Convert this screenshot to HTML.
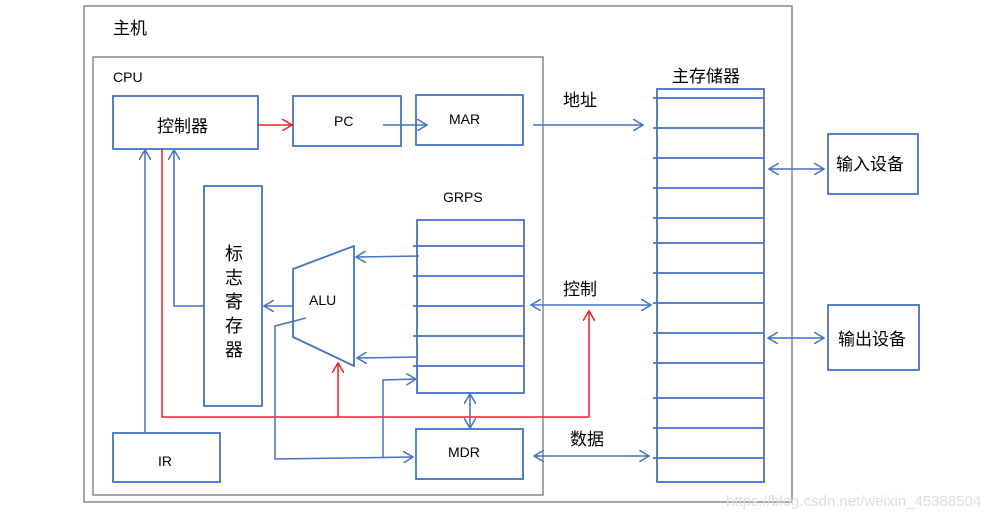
<!DOCTYPE html>
<html><head><meta charset="utf-8"><style>
body{margin:0;background:#fff;}
svg text{font-family:"Liberation Sans","Noto Sans CJK SC",sans-serif;fill:#000;}
</style></head><body>
<svg width="1007" height="519" xmlns="http://www.w3.org/2000/svg">
<defs>
<marker id="b" markerWidth="12" markerHeight="12" refX="10" refY="6" orient="auto-start-reverse" markerUnits="userSpaceOnUse"><path d="M0,0 L10,6 L0,12" fill="none" stroke="#4472C4" stroke-width="1.5"/></marker>
<marker id="r" markerWidth="12" markerHeight="12" refX="10" refY="6" orient="auto-start-reverse" markerUnits="userSpaceOnUse"><path d="M0,0 L10,6 L0,12" fill="none" stroke="#E8202A" stroke-width="1.5"/></marker>
</defs>
<rect x="84" y="6" width="708" height="496" fill="none" stroke="#888" stroke-width="1.5"/>
<rect x="93" y="57" width="450" height="438" fill="none" stroke="#888" stroke-width="1.5"/>
<text x="113" y="34" font-size="17">主机</text>
<text x="113" y="82" font-size="14">CPU</text>
<g fill="none" stroke="#4472C4" stroke-width="1.8">
<rect x="113" y="96" width="145" height="53"/>
<rect x="293" y="96" width="108" height="50"/>
<rect x="416" y="95" width="107" height="50"/>
<rect x="204" y="186" width="58" height="220"/>
<rect x="417" y="220" width="107" height="173"/>
<path d="M413 246H524M413 276H524M413 306H524M413 336H524M413 366H524"/>
<path d="M293 269L354 246V366L293 337Z"/>
<rect x="416" y="429" width="107" height="50"/>
<rect x="113" y="433" width="107" height="49"/>
<rect x="657" y="89" width="107" height="393"/>
<path d="M653 98H764M653 128H764M653 158H764M653 188H764M653 218H764M653 243H764M653 273H764M653 303H764M653 333H764M653 363H764M653 398H764M653 428H764M653 458H764"/>
<rect x="828" y="134" width="90" height="60"/>
<rect x="828" y="305" width="91" height="65"/>
</g>
<g fill="none" stroke-width="1.5">
<path d="M258 125H292" stroke="#E8202A" marker-end="url(#r)"/>
<path d="M383 125H427" stroke="#4472C4" marker-end="url(#b)"/>
<path d="M145 433V150" stroke="#4472C4" marker-end="url(#b)"/>
<path d="M162 149V417H589V311" stroke="#E8202A" marker-end="url(#r)"/>
<path d="M338 417V363" stroke="#E8202A" marker-end="url(#r)"/>
<path d="M204 306H174V150" stroke="#4472C4" marker-end="url(#b)"/>
<path d="M293 306H264" stroke="#4472C4" marker-end="url(#b)"/>
<path d="M419 256L356 257" stroke="#4472C4" marker-end="url(#b)"/>
<path d="M416 357L357 358" stroke="#4472C4" marker-end="url(#b)"/>
<path d="M306 318L275 326V459L413 457" stroke="#4472C4" marker-end="url(#b)"/>
<path d="M383 458V380L416 379" stroke="#4472C4" marker-end="url(#b)"/>
<path d="M470 394V428" stroke="#4472C4" marker-start="url(#b)" marker-end="url(#b)"/>
<path d="M533 125H643" stroke="#4472C4" marker-end="url(#b)"/>
<path d="M531 305H651" stroke="#4472C4" marker-start="url(#b)" marker-end="url(#b)"/>
<path d="M534 456H649" stroke="#4472C4" marker-start="url(#b)" marker-end="url(#b)"/>
<path d="M769 169H824" stroke="#4472C4" marker-start="url(#b)" marker-end="url(#b)"/>
<path d="M768 338H824" stroke="#4472C4" marker-start="url(#b)" marker-end="url(#b)"/>
</g>
<text x="157" y="132" font-size="17">控制器</text>
<text x="334" y="126" font-size="14">PC</text>
<text x="449" y="124" font-size="14">MAR</text>
<text x="443" y="202" font-size="14">GRPS</text>
<text x="309" y="305" font-size="14">ALU</text>
<text x="448" y="457" font-size="14">MDR</text>
<text x="158" y="466" font-size="14">IR</text>
<g font-size="18"><text x="225" y="260">标</text><text x="225" y="284">志</text><text x="225" y="308">寄</text><text x="225" y="332">存</text><text x="225" y="356">器</text></g>
<text x="672" y="82" font-size="17">主存储器</text>
<text x="563" y="106" font-size="17">地址</text>
<text x="563" y="295" font-size="17">控制</text>
<text x="570" y="445" font-size="17">数据</text>
<text x="836" y="170" font-size="17">输入设备</text>
<text x="838" y="345" font-size="17">输出设备</text>
<text x="726" y="506" font-size="15" style="fill:#ddd">https://blog.csdn.net/weixin_45388504</text>
</svg>
</body></html>
